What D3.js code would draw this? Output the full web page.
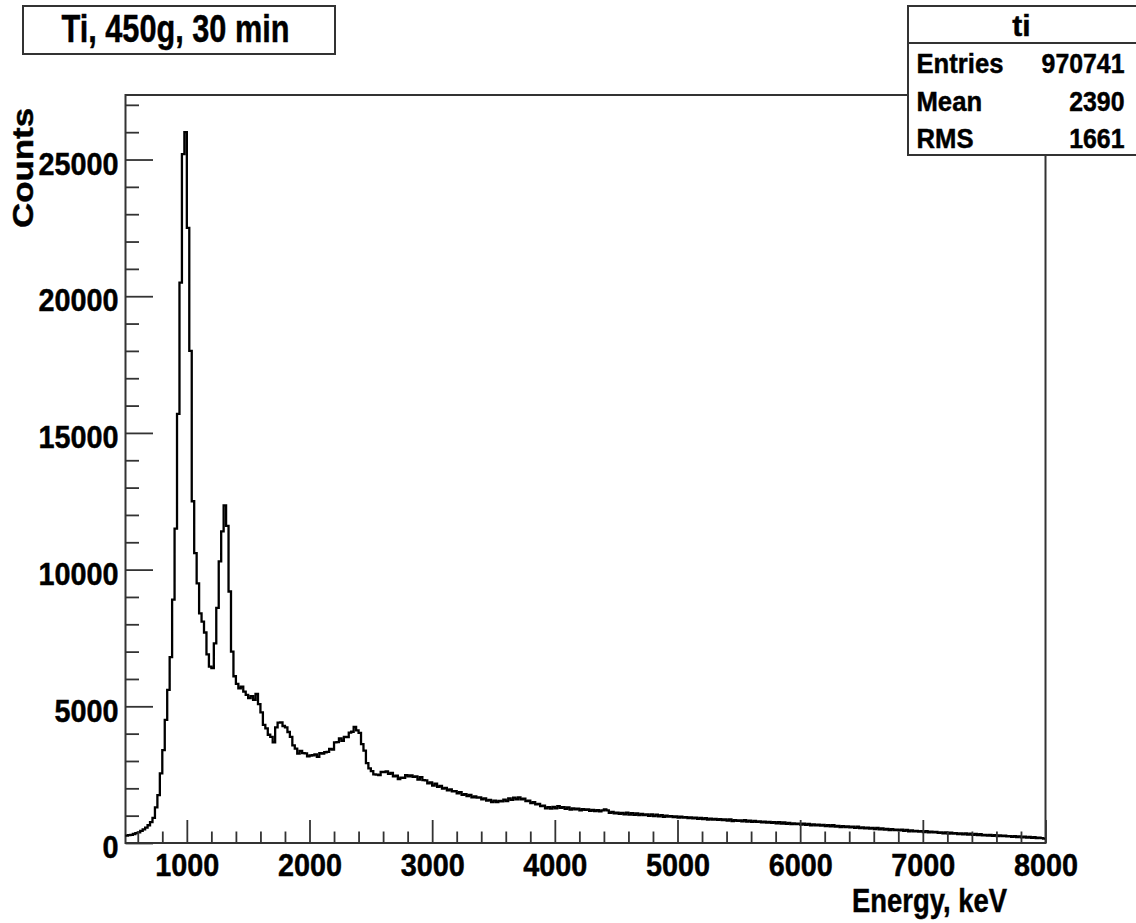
<!DOCTYPE html>
<html>
<head>
<meta charset="utf-8">
<script src="https://cdn.jsdelivr.net/npm/d3@7"></script>
<style>
  html, body { margin: 0; padding: 0; background: #fff; }
  svg { display: block; }
  text { font-family: "Liberation Sans", Arial, Helvetica, sans-serif; font-weight: bold; fill: #000; stroke: #000; stroke-width: 0.45px; }
</style>
</head>
<body>
<svg id="chart" width="1136" height="923"></svg>
<script>
// Energy spectrum, 20 keV bins from 500 to 8000 keV
const binLow = 500;
const binWidth = 20;
const counts = [
  270, 285, 300, 330, 360, 390, 440, 500, 560, 650,            // 500
  760, 920, 1300, 1750, 2550, 3400, 4500, 5600, 6800, 8900,    // 700
  11500, 15700, 20500, 25200, 26000, 22500, 18000, 12500, 10600, 9500, // 900
  8400, 8100, 7700, 6900, 6450, 6400, 7300, 8600, 10300, 11400, // 1100
  12350, 11600, 9200, 7000, 6100, 5820, 5660, 5720, 5540, 5420, // 1300
  5300, 5370, 5240, 5450, 5080, 4780, 4320, 4190, 3960, 3880,  // 1500
  3680, 4230, 4400, 4410, 4280, 4230, 4060, 3880, 3570, 3450,  // 1700
  3270, 3370, 3290, 3280, 3170, 3200, 3210, 3240, 3150, 3290,  // 1900
  3270, 3320, 3330, 3440, 3420, 3680, 3690, 3830, 3740, 3880,  // 2100
  3870, 4040, 4070, 4250, 4120, 4030, 3620, 3380, 2920, 2730,  // 2300
  2630, 2510, 2500, 2480, 2600, 2590, 2620, 2530, 2560, 2440,  // 2500
  2460, 2340, 2390, 2380, 2480, 2440, 2470, 2420, 2440, 2320,  // 2700
  2410, 2300, 2290, 2180, 2220, 2100, 2170, 2050, 2090, 1990,  // 2900
  2020, 1930, 1960, 1890, 1900, 1820, 1860, 1760, 1790, 1720,  // 3100
  1760, 1670, 1700, 1660, 1670, 1600, 1630, 1550, 1580, 1500,  // 3300
  1550, 1500, 1540, 1520, 1590, 1530, 1630, 1580, 1660, 1600,  // 3500
  1670, 1600, 1620, 1530, 1550, 1460, 1490, 1410, 1430, 1350,  // 3700
  1370, 1270, 1310, 1260, 1320, 1270, 1350, 1290, 1310, 1250,  // 3900
  1300, 1220, 1270, 1230, 1260, 1190, 1240, 1210, 1230, 1180,  // 4100
  1210, 1170, 1200, 1160, 1190, 1230, 1190, 1100, 1140, 1080,  // 4300
  1110, 1070, 1100, 1050, 1110, 1040, 1090, 1030, 1080, 1020,  // 4500
  1060, 1020, 1050, 990, 1050, 985, 1035, 975, 1020, 960,      // 4700
  1000, 965, 985, 950, 975, 925, 965, 930, 950, 915,           // 4900
  940, 900, 930, 885, 915, 875, 905, 860, 890, 860,            // 5100
  880, 845, 870, 835, 860, 815, 865, 805, 840, 810,            // 5300
  830, 790, 835, 780, 820, 775, 805, 770, 790, 755,            // 5500
  785, 745, 770, 735, 760, 720, 765, 710, 750, 700,            // 5700
  735, 690, 720, 690, 710, 670, 705, 660, 700, 650,            // 5900
  680, 645, 670, 635, 660, 620, 655, 610, 650, 600,            // 6100
  630, 585, 615, 580, 605, 570, 595, 555, 595, 545,            // 6300
  575, 535, 560, 530, 550, 510, 550, 500, 535, 490,            // 6500
  515, 475, 505, 470, 490, 460, 485, 440, 480, 430,            // 6700
  460, 425, 445, 415, 435, 400, 435, 390, 415, 385,            // 6900
  405, 370, 390, 355, 390, 345, 375, 345, 360, 325,            // 7100
  350, 315, 350, 305, 340, 300, 330, 285, 320, 280,            // 7300
  300, 270, 300, 260, 290, 250, 280, 250, 265, 240,            // 7500
  255, 225, 250, 220, 240, 205, 235, 200, 225, 190,            // 7700
  210, 180, 195, 175, 160                                      // 7900
];

const xTickLabels = [1000, 2000, 3000, 4000, 5000, 6000, 7000, 8000];
const yTickLabels = [0, 5000, 10000, 15000, 20000, 25000];

const titleText = "Ti, 450g, 30 min";
const statsName = "ti";
const statsRows = ["Entries", "Mean", "RMS"];
const statsValues = ["970741", "2390", "1661"];
const xTitle = "Energy, keV";
const yTitle = "Counts";

const svg = d3.select("#chart");
const frame = { left: 125.5, right: 1045.5, top: 95, bottom: 843 };

const x = d3.scaleLinear().domain([500, 8000]).range([frame.left, frame.right]);
const y = d3.scaleLinear().domain([0, 27360]).range([frame.bottom, frame.top]);

// squeeze text horizontally to the narrow face of the drawing
function squeeze(sel, f) {
  sel.each(function () {
    const w = this.getComputedTextLength();
    d3.select(this).attr("textLength", w * f).attr("lengthAdjust", "spacingAndGlyphs");
  });
}

// frame
svg.append("rect")
  .attr("x", frame.left).attr("y", frame.top)
  .attr("width", frame.right - frame.left).attr("height", frame.bottom - frame.top)
  .attr("fill", "none").attr("stroke", "#333").attr("stroke-width", 2);

// histogram as steps
const pts = counts.map((c, i) => [binLow + i * binWidth, c]);
pts.push([binLow + counts.length * binWidth, counts[counts.length - 1]]);
const line = d3.line().x(d => x(d[0])).y(d => y(d[1])).curve(d3.curveStepAfter);
svg.append("path")
  .attr("d", line(pts))
  .attr("fill", "none").attr("stroke", "#000").attr("stroke-width", 2.3)
  .attr("stroke-linejoin", "miter");

// axes: ticks point inward
const xMinor = d3.range(600, 8001, 200).filter(v => v % 1000 !== 0);
const yMinor = d3.range(0, 27001, 1000).filter(v => v % 5000 !== 0);

const gx = svg.append("g").attr("transform", `translate(0,${frame.bottom})`);
gx.append("g").call(d3.axisBottom(x).tickValues(xMinor).tickSize(-11.5).tickFormat(""));
gx.append("g").attr("class", "xmaj")
  .call(d3.axisBottom(x).tickValues(xTickLabels).tickSize(-23).tickPadding(10).tickFormat(d3.format("d")));

const gy = svg.append("g").attr("transform", `translate(${frame.left},0)`);
gy.append("g").call(d3.axisLeft(y).tickValues(yMinor).tickSize(-13.5).tickFormat(""));
gy.append("g").attr("class", "ymaj")
  .call(d3.axisLeft(y).tickValues(yTickLabels).tickSize(-27.5).tickPadding(7).tickFormat(d3.format("d")));

svg.selectAll(".domain").remove();
svg.selectAll(".tick line").attr("stroke", "#333").attr("stroke-width", 1.8);
svg.selectAll(".tick text")
  .attr("font-family", null).attr("font-size", 32).attr("fill", "#000");
svg.selectAll(".ymaj .tick text").attr("dy", "0.46em");
squeeze(svg.selectAll(".tick text"), 0.9);

// axis titles
svg.append("text")
  .attr("x", 1007).attr("y", 911.5)
  .attr("text-anchor", "end").attr("font-size", 32.5)
  .text(xTitle).call(s => s.attr("textLength", 155).attr("lengthAdjust", "spacingAndGlyphs"));

svg.append("text")
  .attr("transform", "translate(33,108) rotate(-90)")
  .attr("text-anchor", "end").attr("font-size", 30)
  .text(yTitle).call(s => s.attr("textLength", 120).attr("lengthAdjust", "spacingAndGlyphs"));

// title box
svg.append("rect")
  .attr("x", 23).attr("y", 6).attr("width", 312).attr("height", 48)
  .attr("fill", "#fff").attr("stroke", "#333").attr("stroke-width", 2);
svg.append("text")
  .attr("x", 175.5).attr("y", 42.3)
  .attr("text-anchor", "middle").attr("font-size", 38)
  .text(titleText).call(s => s.attr("textLength", 228).attr("lengthAdjust", "spacingAndGlyphs"));

// statistics box
const sb = { x: 908, y: 6, w: 240, h: 149, head: 43 };
svg.append("rect")
  .attr("x", sb.x).attr("y", sb.y).attr("width", sb.w).attr("height", sb.h)
  .attr("fill", "#fff").attr("stroke", "#333").attr("stroke-width", 2);
svg.append("line")
  .attr("x1", sb.x).attr("x2", sb.x + sb.w).attr("y1", sb.head).attr("y2", sb.head)
  .attr("stroke", "#333").attr("stroke-width", 2);
svg.append("text")
  .attr("x", 1021.5).attr("y", 36).attr("text-anchor", "middle").attr("font-size", 30)
  .text(statsName);

const rowBase = [72.7, 111, 148.3];
const names = svg.selectAll(".sname").data(statsRows).join("text")
  .attr("class", "sname")
  .attr("x", 916.5).attr("y", (d, i) => rowBase[i]).attr("font-size", 27)
  .text(d => d);
squeeze(names, 0.95);
const vals = svg.selectAll(".sval").data(statsValues).join("text")
  .attr("class", "sval")
  .attr("x", 1124.5).attr("y", (d, i) => rowBase[i]).attr("font-size", 27)
  .attr("text-anchor", "end")
  .text(d => d);
squeeze(vals, 0.92);
</script>
</body>
</html>
